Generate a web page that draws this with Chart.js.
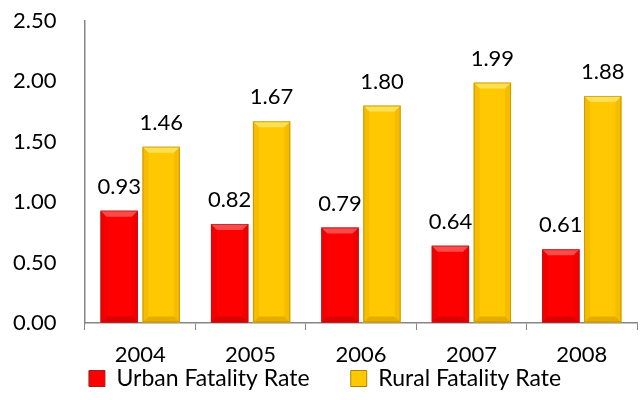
<!DOCTYPE html>
<html>
<head>
<meta charset="utf-8">
<script src="https://cdn.jsdelivr.net/npm/chart.js@4"></script>
<style>
  html, body { margin: 0; padding: 0; background: #fff; }
  #wrap { width: 640px; height: 400px; }
</style>
</head>
<body>
<div id="wrap"><canvas id="myChart"></canvas></div>
<script>
const years = ['2004', '2005', '2006', '2007', '2008'];
const urbanRate = [0.93, 0.82, 0.79, 0.64, 0.61];
const ruralRate = [1.46, 1.67, 1.80, 1.99, 1.88];

const FONT = 'Lato, "Open Sans", sans-serif';

// bevel shading per colour
const shades = {
  '#ff0000': { top: '#ff4a4a', side: '#f20000', bottom: '#dc0000', edge: '#9a2020' },
  '#ffc800': { top: '#ffe050', side: '#f5bc00', bottom: '#e6ac00', edge: '#a88410' },
};

const bevelPlugin = {
  id: 'bevel',
  afterDatasetsDraw(chart) {
    const ctx = chart.ctx;
    chart.data.datasets.forEach((ds, i) => {
      const s = shades[ds.backgroundColor];
      chart.getDatasetMeta(i).data.forEach((bar) => {
        const l = bar.x - bar.width / 2, r = bar.x + bar.width / 2;
        const t = bar.y, b = bar.base;
        const k = Math.min(6, (b - t) / 3);
        ctx.save();
        ctx.fillStyle = s.side;
        ctx.beginPath();
        ctx.moveTo(l, t); ctx.lineTo(l + k, t + k); ctx.lineTo(l + k, b - k); ctx.lineTo(l, b);
        ctx.closePath(); ctx.fill();
        ctx.beginPath();
        ctx.moveTo(r, t); ctx.lineTo(r - k, t + k); ctx.lineTo(r - k, b - k); ctx.lineTo(r, b);
        ctx.closePath(); ctx.fill();
        ctx.fillStyle = s.top;
        ctx.beginPath();
        ctx.moveTo(l, t); ctx.lineTo(r, t); ctx.lineTo(r - k, t + k); ctx.lineTo(l + k, t + k);
        ctx.closePath(); ctx.fill();
        ctx.fillStyle = s.bottom;
        ctx.beginPath();
        ctx.moveTo(l, b); ctx.lineTo(r, b); ctx.lineTo(r - k, b - k); ctx.lineTo(l + k, b - k);
        ctx.closePath(); ctx.fill();
        ctx.strokeStyle = s.edge;
        ctx.globalAlpha = 0.6;
        ctx.lineWidth = 1;
        ctx.strokeRect(l + 0.5, t + 0.5, r - l - 1, b - t - 1);
        ctx.restore();
      });
    });
  },
};

const valueLabels = {
  id: 'valueLabels',
  afterDatasetsDraw(chart) {
    const ctx = chart.ctx;
    ctx.save();
    ctx.font = '22px ' + FONT;
    ctx.fillStyle = '#000';
    ctx.textAlign = 'center';
    ctx.textBaseline = 'alphabetic';
    chart.data.datasets.forEach((ds, i) => {
      chart.getDatasetMeta(i).data.forEach((bar, j) => {
        ctx.fillText(ds.data[j].toFixed(2), bar.x, bar.y - 17);
      });
    });
    ctx.restore();
  },
};

const data = {
  labels: years,
  datasets: [
    {
      label: 'Urban Fatality Rate',
      data: urbanRate,
      backgroundColor: '#ff0000',
      borderWidth: 0,
      categoryPercentage: 0.76,
      barPercentage: 0.89,
    },
    {
      label: 'Rural Fatality Rate',
      data: ruralRate,
      backgroundColor: '#ffc800',
      borderWidth: 0,
      categoryPercentage: 0.76,
      barPercentage: 0.89,
    },
  ],
};

const config = {
  type: 'bar',
  data: data,
  plugins: [bevelPlugin, valueLabels],
  options: {
    responsive: true,
    maintainAspectRatio: false,
    animation: false,
    layout: { padding: { top: 21, right: 3, left: 13, bottom: 0 } },
    plugins: {
      tooltip: { enabled: false },
      legend: {
        position: 'bottom',
        labels: {
          color: '#000',
          font: { family: FONT, size: 23 },
          boxWidth: 16,
          boxHeight: 16,
          padding: 0,
          generateLabels(chart) {
            return chart.data.datasets.map((ds, i) => ({
              text: i === 0 ? ds.label + '       ' : ds.label,
              fillStyle: ds.backgroundColor,
              strokeStyle: shades[ds.backgroundColor].edge,
              lineWidth: 1,
              datasetIndex: i,
            }));
          },
        },
      },
    },
    scales: {
      x: {
        grid: {
          offset: true,
          drawOnChartArea: false,
          drawTicks: true,
          tickLength: 7,
          color: '#868686',
        },
        border: { color: '#868686', width: 1.5 },
        ticks: { color: '#000', font: { family: FONT, size: 22 }, padding: 12 },
        afterFit(scale) { scale.height = 44; },
      },
      y: {
        min: 0,
        max: 2.5,
        grid: { drawOnChartArea: false, drawTicks: false },
        border: { color: '#868686', width: 1.5 },
        ticks: {
          stepSize: 0.5,
          color: '#000',
          font: { family: FONT, size: 22 },
          padding: 0,
          crossAlign: 'far',
          callback: (v) => v.toFixed(2),
        },
        afterFit(scale) { scale.width = 72; },
      },
    },
  },
};

const myChart = new Chart(document.getElementById('myChart').getContext('2d'), config);
</script>
</body>
</html>
